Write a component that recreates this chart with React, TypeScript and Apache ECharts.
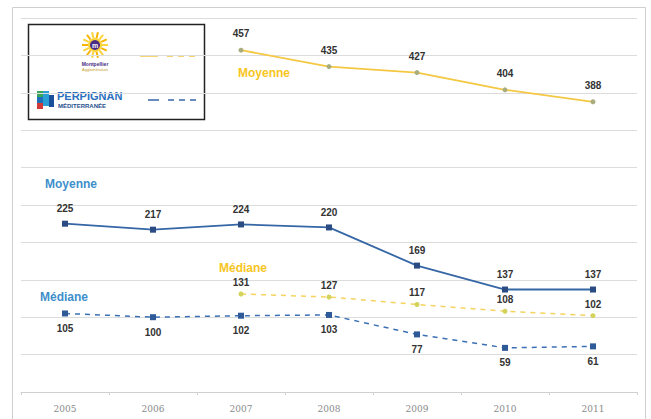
import React, { useEffect, useRef } from "react";
import * as echarts from "echarts";

const years = ["2005", "2006", "2007", "2008", "2009", "2010", "2011"];
const montpellierMoyenne = [null, null, 457, 435, 427, 404, 388];
const montpellierMediane = [null, null, 131, 127, 117, 108, 102];
const perpignanMoyenne = [225, 217, 224, 220, 169, 137, 137];
const perpignanMediane = [105, 100, 102, 103, 77, 59, 61];

const YELLOW = "#f4c842";
const YELLOW_TXT = "#f7c51e";
const BLUE = "#3566a6";
const BLUE_TXT = "#3d8fcb";

const labelStyle = {
  show: true,
  fontFamily: "Liberation Sans, Arial, sans-serif",
  fontWeight: "bold" as const,
  fontSize: 10,
  color: "#333",
};

function sunRays(cx: number, cy: number) {
  const rays: any[] = [];
  for (let i = 0; i < 14; i++) {
    const a = (i / 14) * Math.PI * 2;
    rays.push({
      type: "line",
      shape: {
        x1: cx + Math.cos(a) * 7,
        y1: cy + Math.sin(a) * 7,
        x2: cx + Math.cos(a) * 13,
        y2: cy + Math.sin(a) * 13,
      },
      style: { stroke: i % 2 ? "#f7b500" : "#fbd33a", lineWidth: 2 },
    });
  }
  return rays;
}

export default function App() {
  const ref = useRef<HTMLDivElement>(null);
  useEffect(() => {
    if (!ref.current) return;
    const chart = echarts.init(ref.current, undefined, { renderer: "svg" });
    chart.setOption({
      animation: false,
      backgroundColor: "#ffffff",
      grid: { left: 21, right: 14, top: 18, bottom: 27, containLabel: false },
      xAxis: {
        type: "category",
        data: years,
        boundaryGap: true,
        axisLine: { show: true, lineStyle: { color: "#d0d0d0", width: 1 } },
        axisTick: { show: true, length: 3, lineStyle: { color: "#d0d0d0" } },
        axisLabel: {
          color: "#8a8a8a",
          fontSize: 9,
          fontFamily: "DejaVu Serif, serif",
          margin: 12,
        },
      },
      yAxis: {
        type: "value",
        min: 0,
        max: 500,
        interval: 50,
        axisLine: { show: false },
        axisTick: { show: false },
        axisLabel: { show: false },
        splitLine: { lineStyle: { color: "#dcdcdc", width: 1 } },
      },
      series: [
        {
          name: "Montpellier Moyenne",
          type: "line",
          data: montpellierMoyenne,
          symbol: "circle",
          symbolSize: 5,
          lineStyle: { color: YELLOW, width: 1.8 },
          itemStyle: { color: "#a9ad7e" },
          label: { ...labelStyle, position: "top", distance: 9 },
        },
        {
          name: "Montpellier Médiane",
          type: "line",
          data: montpellierMediane,
          symbol: "circle",
          symbolSize: 5,
          lineStyle: { color: "#f6d35e", width: 1.5, type: [5, 5] },
          itemStyle: { color: "#d3d35a" },
          label: { ...labelStyle, position: "top", distance: 4 },
        },
        {
          name: "Perpignan Moyenne",
          type: "line",
          data: perpignanMoyenne,
          symbol: "rect",
          symbolSize: 6,
          lineStyle: { color: BLUE, width: 1.8 },
          itemStyle: { color: "#2b4c82" },
          label: { ...labelStyle, position: "top", distance: 7 },
        },
        {
          name: "Perpignan Médiane",
          type: "line",
          data: perpignanMediane,
          symbol: "rect",
          symbolSize: 6,
          lineStyle: { color: "#3b70b4", width: 1.5, type: [5, 5] },
          itemStyle: { color: "#2f5a98" },
          label: { ...labelStyle, position: "bottom", distance: 7 },
        },
      ],
      graphic: [
        {
          type: "rect",
          shape: { x: 12.5, y: 7.5, width: 633, height: 430 },
          style: { fill: "none", stroke: "#cfcfcf", lineWidth: 1 },
          silent: true,
        },
        {
          type: "text",
          x: 238,
          y: 73,
          style: {
            text: "Moyenne",
            fill: YELLOW_TXT,
            font: "bold 12px Liberation Sans, Arial, sans-serif",
            verticalAlign: "middle",
          },
        },
        {
          type: "text",
          x: 45,
          y: 184,
          style: {
            text: "Moyenne",
            fill: BLUE_TXT,
            font: "bold 12px Liberation Sans, Arial, sans-serif",
            verticalAlign: "middle",
          },
        },
        {
          type: "text",
          x: 219,
          y: 268,
          style: {
            text: "Médiane",
            fill: YELLOW_TXT,
            font: "bold 12px Liberation Sans, Arial, sans-serif",
            verticalAlign: "middle",
          },
        },
        {
          type: "text",
          x: 40,
          y: 297,
          style: {
            text: "Médiane",
            fill: BLUE_TXT,
            font: "bold 12px Liberation Sans, Arial, sans-serif",
            verticalAlign: "middle",
          },
        },
        // legend box
        {
          type: "rect",
          shape: { x: 28.5, y: 24.5, width: 176, height: 95 },
          style: { fill: "#ffffff", stroke: "#222", lineWidth: 1.5 },
        },
        ...sunRays(95, 45),
        {
          type: "circle",
          shape: { cx: 95, cy: 45, r: 7 },
          style: { fill: "#fbd33a" },
        },
        {
          type: "circle",
          shape: { cx: 95, cy: 45, r: 5 },
          style: { fill: "#4b2d84" },
        },
        {
          type: "text",
          x: 95,
          y: 45,
          style: {
            text: "m",
            fill: "#ffffff",
            font: "bold 7px Liberation Sans, sans-serif",
            align: "center",
            verticalAlign: "middle",
          },
        },
        {
          type: "text",
          x: 95,
          y: 64,
          style: {
            text: "Montpellier",
            fill: "#4b2d84",
            font: "bold 5px Liberation Sans, sans-serif",
            align: "center",
            verticalAlign: "middle",
          },
        },
        {
          type: "text",
          x: 95,
          y: 69,
          style: {
            text: "Agglomération",
            fill: "#c9a030",
            font: "4px Liberation Sans, sans-serif",
            align: "center",
            verticalAlign: "middle",
          },
        },
        {
          type: "line",
          shape: { x1: 140, y1: 56, x2: 158, y2: 56 },
          style: { stroke: YELLOW, lineWidth: 1.5 },
        },
        {
          type: "line",
          shape: { x1: 167, y1: 56, x2: 195, y2: 56 },
          style: { stroke: YELLOW, lineWidth: 1.5, lineDash: [6, 5] },
        },
        // Perpignan logo
        { type: "rect", shape: { x: 37, y: 91, width: 6, height: 6 }, style: { fill: "#3aa55c" } },
        { type: "rect", shape: { x: 43, y: 91, width: 6, height: 6 }, style: { fill: "#2a9fd6" } },
        { type: "rect", shape: { x: 37, y: 97, width: 6, height: 6 }, style: { fill: "#1d70b8" } },
        { type: "rect", shape: { x: 43, y: 97, width: 6, height: 9 }, style: { fill: "#2a9fd6" } },
        { type: "rect", shape: { x: 37, y: 103, width: 6, height: 6 }, style: { fill: "#d23a3a" } },
        { type: "rect", shape: { x: 49, y: 95, width: 5, height: 12 }, style: { fill: "#1a4f9c" } },
        {
          type: "text",
          x: 57,
          y: 96,
          style: {
            text: "PERPIGNAN",
            fill: "#2a6fbe",
            font: "bold 11px Liberation Sans, Arial, sans-serif",
            verticalAlign: "middle",
          },
        },
        {
          type: "text",
          x: 58,
          y: 106,
          style: {
            text: "MÉDITERRANÉE",
            fill: "#1f4f8f",
            font: "bold 6px Liberation Sans, Arial, sans-serif",
            verticalAlign: "middle",
          },
        },
        {
          type: "line",
          shape: { x1: 148, y1: 100, x2: 159, y2: 100 },
          style: { stroke: BLUE, lineWidth: 1.5 },
        },
        {
          type: "line",
          shape: { x1: 168, y1: 100, x2: 196, y2: 100 },
          style: { stroke: BLUE, lineWidth: 1.5, lineDash: [6, 5] },
        },
      ],
    });
    return () => chart.dispose();
  }, []);
  return (
    <div
      ref={ref}
      style={{ position: "absolute", left: 0, top: 0, width: 651, height: 419 }}
    />
  );
}
